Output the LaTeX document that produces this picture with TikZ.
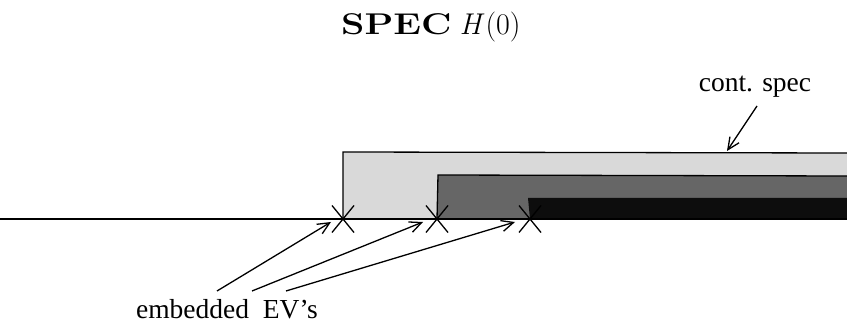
\documentclass[tikz,border=0pt]{standalone}
\usepackage{fontspec}
\usetikzlibrary{arrows.meta}
\newfontfamily\timesfont{Liberation Serif}
\definecolor{lightspec}{HTML}{D9D9D9}
\definecolor{midspec}{HTML}{666666}
\definecolor{darkspec}{HTML}{0D0D0D}
\tikzset{
  edge/.style={line width=1.3pt, black},
  ptr/.style={line width=1.3pt, -{Straight Barb[length=12pt,width=11pt,line width=1.3pt]}},
  lbl/.style={font=\timesfont\fontsize{27.5}{30}\selectfont, inner sep=0pt},
  crossmark/.style={line width=1.3pt}
}
\begin{document}
\begin{tikzpicture}[x=1pt,y=-1pt]
\useasboundingbox (0,0) rectangle (847,326);
% spectra bands
\fill[lightspec] (343,219) -- (343,152) -- (847,153) -- (847,219) -- cycle;
\draw[edge] (343,219) -- (343,152) -- (847,153);
\fill[midspec] (437,219) -- (438,175) -- (847,176) -- (847,219) -- cycle;
\draw[edge] (437,219) -- (438,175) -- (847,176);
\fill[darkspec] (530,219) -- (528,198) -- (847,198) -- (847,219) -- cycle;
% axis
\coordinate (l) at (0,219);
\coordinate (r) at (847,219);
\draw[edge] (l) -- (r);
% embedded eigenvalues
\coordinate (e1) at (343,219);
\coordinate (e2) at (437,219);
\coordinate (e3) at (530,219);
\foreach \e in {e1,e2,e3}{
  \draw[crossmark] ([shift={(-11,-13.5)}]\e) -- ([shift={(11,13.5)}]\e);
  \draw[crossmark] ([shift={(-11,13.5)}]\e) -- ([shift={(11,-13.5)}]\e);
}
% title
\node[inner sep=0pt, anchor=base west] (title) at (341,35)
  {\scalebox{1.25}[1]{\fontsize{30}{33}\selectfont\bfseries SPEC}\hspace{8pt}{\fontsize{30}{33}\selectfont\textit{H}\kern1pt(0)}};
% labels
\node[lbl, anchor=base] (emb) at (227,318) {embedded\ \ EV’s};
\node[lbl] (cont) at (755,87) {cont. spec};
\coordinate (a1) at (217,291);
\coordinate (a2) at (252,291);
\coordinate (a3) at (286,291);
\coordinate (t1) at (331,222);
\coordinate (t2) at (423,222);
\coordinate (t3) at (515,222);
\draw[ptr] (a1) -- (t1);
\draw[ptr] (a2) -- (t2);
\draw[ptr] (a3) -- (t3);
\coordinate (c0) at (757,106);
\coordinate (c1) at (727,151);
\draw[ptr] (c0) -- (c1);
\end{tikzpicture}
\end{document}
